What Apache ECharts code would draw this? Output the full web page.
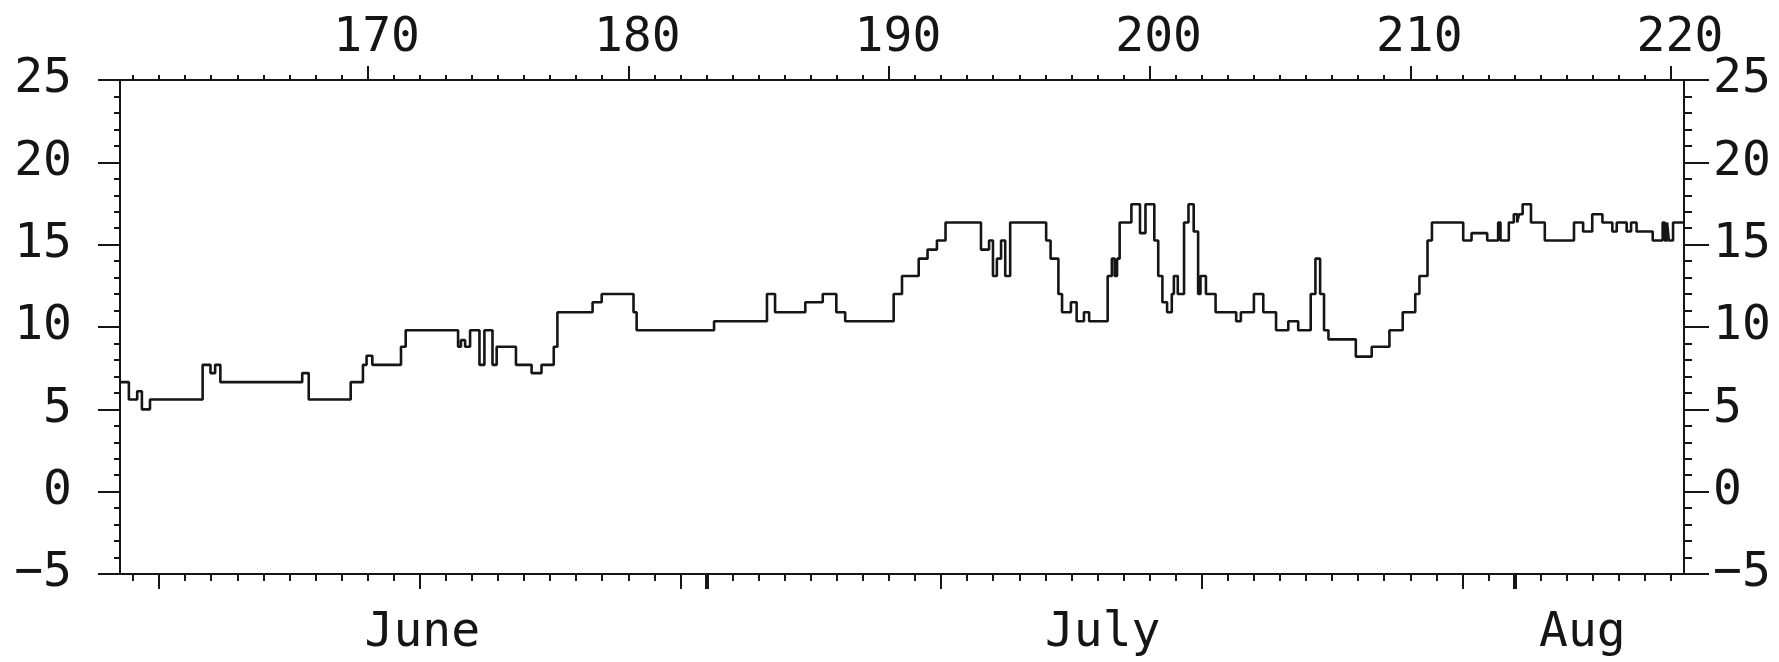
<!DOCTYPE html>
<html>
<head>
<meta charset="utf-8">
<script src="https://cdn.jsdelivr.net/npm/echarts@6/dist/echarts.min.js"></script>
<style>
html,body{margin:0;padding:0;background:#fff;}
#chart{width:1779px;height:662px;}
</style>
</head>
<body>
<div id="chart"></div>
<script>
// ---- data (day of year at which each step starts, and its value) ----
const stepDays = [
  160.5, 160.84, 161.16, 161.34, 161.65, 163.67, 163.97, 164.15, 164.35, 167.49,
  167.74, 169.35, 169.82, 169.96, 170.18, 171.28, 171.46, 173.47, 173.58, 173.74,
  173.93, 174.29, 174.48, 174.79, 174.95, 175.69, 176.29, 176.67, 177.14, 177.28,
  178.63, 178.98, 180.2, 180.32, 183.29, 185.32, 185.63, 186.79, 187.46, 187.98,
  188.32, 190.18, 190.5, 191.14, 191.48, 191.84, 192.17, 193.53, 193.84, 193.99,
  194.14, 194.3, 194.46, 194.65, 196.03, 196.2, 196.5, 196.64, 196.98, 197.2,
  197.48, 197.68, 198.39, 198.55, 198.66, 198.75, 198.85, 199.3, 199.63, 199.84,
  200.18, 200.33, 200.49, 200.67, 200.85, 200.93, 201.08, 201.32, 201.49, 201.69,
  201.86, 201.95, 202.16, 202.53, 203.32, 203.5, 204.0, 204.36, 204.85, 205.32,
  205.7, 206.18, 206.36, 206.54, 206.69, 206.86, 207.91, 208.52, 209.2, 209.71,
  210.19, 210.35, 210.66, 210.83, 212.03, 212.35, 212.95, 213.37, 213.46, 213.78,
  213.97, 214.1, 214.17, 214.31, 214.63, 215.16, 216.28, 216.63, 216.98, 217.37,
  217.75, 217.92, 218.3, 218.47, 218.68, 219.3, 219.68, 219.76, 219.85, 219.92,
  220.08
];
const stepTemps = [
  6.65, 5.6, 6.1, 5.0, 5.6, 7.7, 7.2, 7.7, 6.65, 7.2,
  5.6, 6.65, 7.7, 8.25, 7.7, 8.8, 9.8, 8.8, 9.2, 8.8,
  9.8, 7.7, 9.8, 7.7, 8.8, 7.7, 7.2, 7.7, 8.8, 10.9,
  11.5, 12.0, 10.9, 9.8, 10.35, 12.0, 10.9, 11.5, 12.0, 10.9,
  10.35, 12.0, 13.1, 14.15, 14.7, 15.25, 16.35, 14.7, 15.25, 13.1,
  14.15, 15.25, 13.1, 16.35, 15.25, 14.15, 12.0, 10.9, 11.5, 10.35,
  10.9, 10.35, 13.1, 14.15, 13.1, 14.15, 16.35, 17.45, 15.7, 17.45,
  15.25, 13.1, 11.5, 10.9, 12.0, 13.1, 12.0, 16.35, 17.45, 15.8,
  12.0, 13.1, 12.0, 10.9, 10.35, 10.9, 12.0, 10.9, 9.8, 10.35,
  9.8, 12.0, 14.15, 12.0, 9.8, 9.25, 8.2, 8.8, 9.8, 10.9,
  12.0, 13.1, 15.25, 16.35, 15.25, 15.7, 15.25, 16.35, 15.25, 16.35,
  16.85, 16.35, 16.85, 17.45, 16.35, 15.25, 16.35, 15.8, 16.85, 16.35,
  15.8, 16.35, 15.8, 16.35, 15.8, 15.25, 16.35, 15.25, 16.35, 15.25,
  16.35
];
const axisStartDay = 160.5;
const axisEndDay = 220.5;
const topLabelDays = [170, 180, 190, 200, 210, 220];
const bottomTenDayTicks = [162, 172, 182, 192, 202, 212];
const monthStartTicks = [183, 214];
const monthLabelDays = [172.1, 198.2, 216.6];
const monthNames = ['June', 'July', 'Aug'];
const dailyTicks = [];
for (let d = 161; d <= 220; d++) dailyTicks.push(d);

const seriesData = stepDays.map((d, i) => [d, stepTemps[i]]);
seriesData.push([axisEndDay, stepTemps[stepTemps.length - 1]]);

const INK = '#151515';
const FONT = 'DejaVu Sans Mono';

function xAxisBase(pos, extra) {
  return Object.assign({
    type: 'value', position: pos, min: axisStartDay, max: axisEndDay,
    splitLine: { show: false },
    axisLine: { show: true, onZero: false, lineStyle: { color: INK, width: 2 } },
    axisLabel: { show: false },
    axisTick: { show: false }
  }, extra);
}
function tick(values, len, width) {
  return { show: true, customValues: values, length: len, lineStyle: { color: INK, width: width } };
}
function yAxisBase(pos, majorLen, minorLen, margin) {
  return {
    type: 'value', position: pos, min: -5, max: 25, interval: 5,
    splitLine: { show: false },
    axisLine: { show: true, onZero: false, lineStyle: { color: INK, width: 2 } },
    axisTick: { show: true, length: majorLen, lineStyle: { color: INK, width: 2 } },
    minorTick: { show: true, splitNumber: 5, length: minorLen, lineStyle: { color: INK, width: 2 } },
    minorSplitLine: { show: false },
    axisLabel: {
      show: true, margin: margin, fontSize: 48, fontFamily: FONT, color: INK,
      formatter: v => (v < 0 ? '\u2212' + Math.abs(v) : String(v))
    }
  };
}

const chart = echarts.init(document.getElementById('chart'), null, { renderer: 'canvas' });
chart.setOption({
  animation: false,
  backgroundColor: '#ffffff',
  grid: { left: 120, right: 95, top: 80, bottom: 88, outerBoundsMode: 'none' },
  xAxis: [
    xAxisBase('top', { axisTick: tick(dailyTicks, 5, 2) }),
    xAxisBase('top', {
      axisTick: tick(topLabelDays, 14, 2),
      axisLabel: {
        show: true, customValues: topLabelDays, margin: 17, fontSize: 48,
        fontFamily: FONT, color: INK, padding: [0, 0, 0, 18]
      }
    }),
    xAxisBase('bottom', { axisTick: tick(dailyTicks, 7, 2) }),
    xAxisBase('bottom', { axisTick: tick(bottomTenDayTicks, 15, 2) }),
    xAxisBase('bottom', {
      axisTick: tick(monthStartTicks, 15, 4),
      axisLabel: {
        show: true, customValues: monthLabelDays, margin: 36, fontSize: 48,
        fontFamily: FONT, color: INK,
        formatter: v => {
          let best = 0;
          monthLabelDays.forEach((d, i) => { if (Math.abs(d - v) < Math.abs(monthLabelDays[best] - v)) best = i; });
          return monthNames[best];
        }
      }
    })
  ],
  yAxis: [
    yAxisBase('left', 22, 6, 48),
    yAxisBase('right', 25, 8, 29)
  ],
  series: [{
    type: 'line',
    xAxisIndex: 0,
    yAxisIndex: 0,
    step: 'end',
    data: seriesData,
    symbol: 'none',
    showSymbol: false,
    lineStyle: { color: INK, width: 2.6 },
    clip: true
  }]
});
</script>
</body>
</html>
